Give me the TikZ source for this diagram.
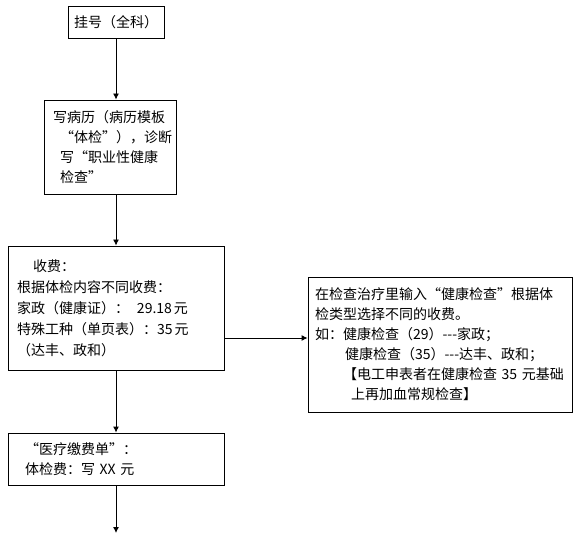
\documentclass[tikz,border=0pt]{standalone}
\usepackage{fontspec}
\setmainfont{Noto Sans CJK SC}
\newcommand{\lqfw}{\makebox[14pt][r]{“}}
\newcommand{\rqfw}{\makebox[14pt][l]{”}}
\usetikzlibrary{arrows.meta}
\begin{document}
\begin{tikzpicture}[x=1pt,y=-1pt,
  box/.style={draw, line width=0.9pt, inner ysep=0pt, align=left,
    font=\fontsize{14}{20}\selectfont},
  arr/.style={line width=0.9pt, -{Latex[length=6pt,width=6pt]}}]
\fill[white] (0,0) rectangle (578,534);
\useasboundingbox (0,0) rectangle (578,534);
\node[box, align=center, minimum width=96pt, minimum height=32pt, inner xsep=0pt] (b1) at (116,22) {挂号（全科）};
\node[box, text width=118pt, inner xsep=7pt, minimum height=94pt] (b2) at (110,147)
  {\hspace*{2pt}写病历（病历模板\\\hspace*{9pt}“体检”），诊断\\\hspace*{9pt}写“职业性健康\\\hspace*{9pt}检查”};
\node[box, text width=198pt, inner xsep=9pt, minimum height=124pt,
  font=\fontsize{14}{21}\selectfont] (b3) at (116,308)
  {\hspace*{16pt}收费：\\根据体检内容不同收费：\\家政（健康证）：\hspace{8pt}29.18\hspace{2pt}元\\特殊工种（单页表）：35\hspace{2pt}元\\（达丰、政和）};
\node[box, text width=182pt, inner xsep=17pt, minimum height=52pt] (b4) at (116,459)
  {“医疗缴费单”：\\体检费：写 XX 元};
\node[box, text width=250pt, inner xsep=7pt, minimum height=135pt] (b5) at (440,344.5)
  {在检查治疗里输入\lqfw 健康检查\rqfw 根据体\\检类型选择不同的收费。\\如：健康检查（29）-{}-{}-家政；\\\hspace*{30pt}健康检查（35）-{}-{}-达丰、政和；\\\hspace*{28pt}【电工申表者在健康检查 35 元基础\\\hspace*{36pt}上再加血常规检查】};
\coordinate (end) at (116,533);
\draw[arr] (b1.south) -- (b1.south |- b2.north);
\draw[arr] (b1.south |- b2.south) -- (b3.north);
\draw[arr] (b3.south) -- (b4.north);
\draw[arr] (b4.south) -- (end);
\draw[arr] (b3.east |- 0,338) -- (b5.west |- 0,338);
\end{tikzpicture}
\end{document}
